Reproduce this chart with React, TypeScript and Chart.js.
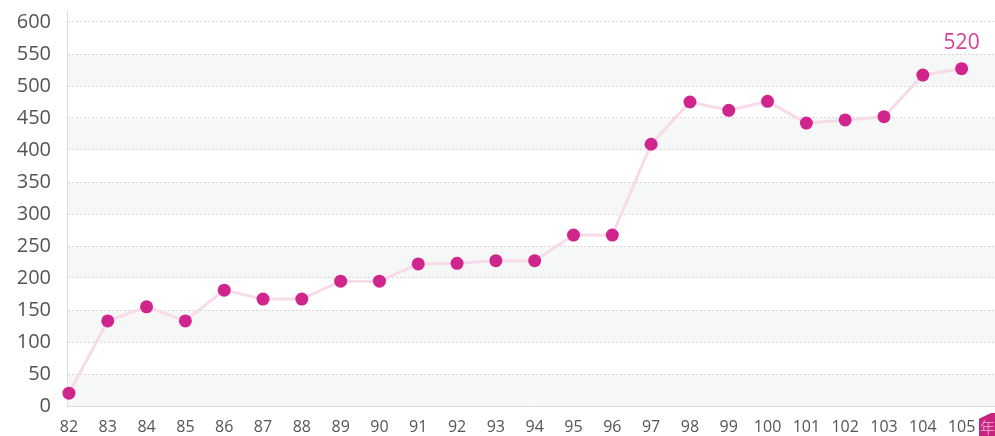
import React, { useEffect, useRef } from "react";
import { Chart, registerables } from "chart.js";

Chart.register(...registerables);

const years = [82, 83, 84, 85, 86, 87, 88, 89, 90, 91, 92, 93, 94, 95, 96, 97, 98, 99, 100, 101, 102, 103, 104, 105];
const values = [20, 133, 155, 133, 181, 167, 167, 195, 195, 222, 223, 227, 227, 267, 267, 409, 475, 462, 476, 442, 447, 452, 517, 527];
const yTicks = [0, 50, 100, 150, 200, 250, 300, 350, 400, 450, 500, 550, 600];
const bandRanges = [[0, 50], [100, 150], [200, 250], [300, 350], [400, 450], [500, 550]];
const lastLabel = "520";
const unitLabel = "年";

const FONT = "'Open Sans', 'Noto Sans', sans-serif";

export default function App() {
  const ref = useRef<HTMLCanvasElement | null>(null);

  useEffect(() => {
    document.body.style.margin = "0";
    const canvas = ref.current!;
    const bands = {
      id: "bands",
      beforeDraw(chart: any) {
        const { ctx, chartArea, scales } = chart;
        ctx.save();
        ctx.fillStyle = "#f6f7f7";
        for (const [a, b] of bandRanges) {
          const y1 = scales.y.getPixelForValue(b);
          const y2 = scales.y.getPixelForValue(a);
          ctx.fillRect(chartArea.left, y1, chartArea.right - chartArea.left, y2 - y1);
        }
        ctx.restore();
      },
    };
    const lastLbl = {
      id: "lastLbl",
      afterDatasetsDraw(chart: any) {
        const meta = chart.getDatasetMeta(0);
        const pt = meta.data[meta.data.length - 1];
        if (!pt) return;
        const { ctx } = chart;
        ctx.save();
        ctx.font = `400 21px ${FONT}`;
        ctx.fillStyle = "#d6409a";
        ctx.textAlign = "center";
        ctx.textBaseline = "middle";
        ctx.fillText(lastLabel, pt.x, pt.y - 26);
        ctx.restore();
      },
    };
    const chart = new Chart(canvas, {
      type: "line",
      data: {
        datasets: [
          {
            data: years.map((x, i) => ({ x, y: values[i] })),
            borderColor: "#f7dbe9",
            borderWidth: 3,
            pointBackgroundColor: "#d0258c",
            pointBorderColor: "#d0258c",
            pointRadius: 6.5,
            pointBorderWidth: 0,
            tension: 0,
            clip: false,
          },
        ],
      },
      options: {
        animation: false,
        responsive: false,
        devicePixelRatio: 1,
        layout: { autoPadding: false, padding: { top: 10, right: 0, left: 0, bottom: 0 } },
        plugins: { legend: { display: false }, tooltip: { enabled: false } },
        scales: {
          x: {
            type: "linear",
            min: 81.95,
            max: 105.86,
            afterBuildTicks(scale: any) {
              scale.ticks = years.map((v) => ({ value: v }));
            },
            afterFit(scale: any) {
              scale.height = 30;
              scale.paddingLeft = 0;
              scale.paddingRight = 0;
            },
            grid: { display: false, drawTicks: false },
            border: { display: true, color: "#dddddd", width: 1 },
            ticks: {
              color: "#555555",
              font: { family: FONT, size: 16 },
              padding: 12,
              maxRotation: 0,
              autoSkip: false,
              callback: (v: any) => String(v),
            },
          },
          y: {
            min: 0,
            max: 618.75,
            afterBuildTicks(scale: any) {
              scale.ticks = yTicks.map((v) => ({ value: v }));
            },
            afterFit(scale: any) {
              scale.width = 67;
              scale.paddingTop = 0;
              scale.paddingBottom = 0;
            },
            grid: { color: "#d8d8d8", lineWidth: 1, drawTicks: false },
            border: { display: true, color: "#dddddd", width: 1, dash: [2, 2] },
            ticks: {
              color: "#555555",
              font: { family: FONT, size: 20 },
              padding: 16,
              callback: (v: any) => String(v),
            },
          },
        },
      },
      plugins: [bands, lastLbl],
    } as any);
    return () => chart.destroy();
  }, []);

  return (
    <div style={{ position: "relative", width: 995, height: 436, overflow: "hidden" }}>
      <canvas ref={ref} width={995} height={436} style={{ display: "block", width: 995, height: 436 }} />
      <div
        style={{
          position: "absolute",
          left: 979,
          top: 413,
          width: 20,
          height: 23,
          background: "#c7237f",
          clipPath: "polygon(0 25%, 60% 0, 100% 0, 100% 100%, 0 100%)",
          color: "#e59ac6",
          fontFamily: "'Noto Sans CJK TC', sans-serif",
          fontSize: 15,
          lineHeight: "23px",
          paddingLeft: 1,
          paddingTop: 2,
          boxSizing: "border-box",
        }}
      >
        {unitLabel}
      </div>
    </div>
  );
}
